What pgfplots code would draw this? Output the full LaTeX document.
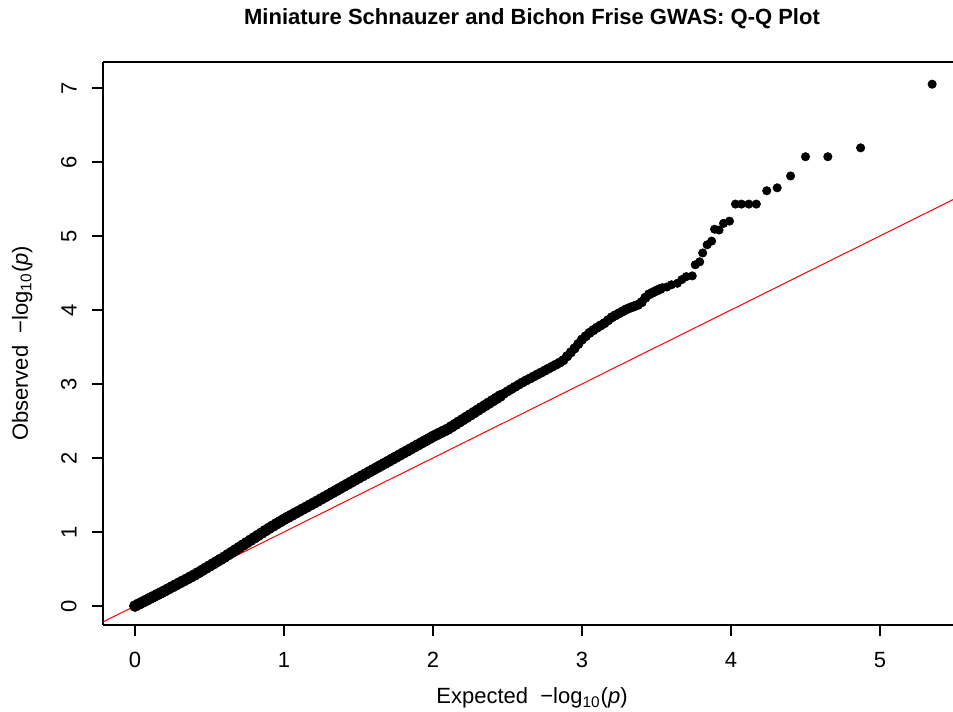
\documentclass[border=0pt]{standalone}
\usepackage{fontspec}
\setmainfont{Liberation Sans}
\usepackage{pgfplots}
\pgfplotsset{compat=1.18}

% Q-Q plot: observed vs expected -log10(p)
% dense part of the distribution (many overlapping SNPs)
\pgfplotstableread{
x y
0.000 0.000
0.025 0.026
0.050 0.051
0.075 0.077
0.100 0.103
0.125 0.128
0.150 0.154
0.175 0.179
0.200 0.205
0.225 0.232
0.250 0.259
0.275 0.286
0.300 0.313
0.325 0.339
0.350 0.366
0.375 0.393
0.400 0.420
0.425 0.450
0.450 0.480
0.475 0.510
0.500 0.540
0.525 0.570
0.550 0.600
0.575 0.630
0.600 0.660
0.625 0.693
0.650 0.725
0.675 0.758
0.700 0.790
0.725 0.823
0.750 0.855
0.775 0.888
0.800 0.920
0.825 0.953
0.850 0.985
0.875 1.018
0.900 1.050
0.925 1.080
0.950 1.110
0.975 1.140
1.000 1.170
1.025 1.198
1.050 1.225
1.075 1.253
1.100 1.280
1.125 1.308
1.150 1.335
1.175 1.363
1.200 1.390
1.225 1.418
1.250 1.447
1.275 1.475
1.300 1.503
1.325 1.532
1.350 1.560
1.375 1.588
1.400 1.617
1.425 1.645
1.450 1.673
1.475 1.702
1.500 1.730
1.525 1.758
1.550 1.786
1.575 1.814
1.600 1.842
1.625 1.870
1.650 1.898
1.675 1.926
1.700 1.954
1.725 1.982
1.750 2.010
1.775 2.038
1.800 2.066
1.825 2.094
1.850 2.122
1.875 2.150
1.900 2.178
1.925 2.206
1.950 2.234
1.975 2.262
2.000 2.290
2.025 2.315
2.050 2.340
2.075 2.365
2.100 2.390
2.125 2.422
2.150 2.454
2.175 2.486
2.200 2.518
2.225 2.549
2.250 2.581
2.275 2.613
2.300 2.645
2.325 2.677
2.350 2.709
2.375 2.741
2.400 2.773
2.425 2.804
2.450 2.836
}\densepart

\pgfplotstableread{
x y
2.475 2.868
2.500 2.900
2.525 2.930
2.550 2.960
2.575 2.990
2.600 3.020
2.625 3.047
2.650 3.073
2.675 3.100
2.700 3.127
2.725 3.153
2.750 3.180
2.775 3.207
2.800 3.234
2.825 3.261
2.850 3.288
2.875 3.321
2.900 3.374
2.925 3.427
2.950 3.480
2.975 3.540
3.000 3.600
3.025 3.645
3.050 3.690
3.075 3.725
3.100 3.760
3.125 3.790
3.150 3.820
3.175 3.860
3.200 3.900
3.225 3.928
3.250 3.955
3.275 3.983
3.300 4.010
3.325 4.031
3.350 4.049
3.375 4.068
3.400 4.104
3.425 4.164
3.450 4.210
3.475 4.235
3.500 4.260
3.525 4.284
}\midpart

% top hits
\pgfplotstableread{
x y
3.54 4.30
3.57 4.31
3.60 4.34
3.64 4.36
3.67 4.41
3.70 4.45
3.74 4.46
3.76 4.61
3.79 4.65
3.81 4.77
3.84 4.88
3.87 4.93
3.89 5.09
3.92 5.08
3.95 5.17
3.99 5.20
4.03 5.43
4.07 5.43
4.12 5.43
4.17 5.43
4.24 5.61
4.31 5.65
4.40 5.81
4.50 6.07
4.65 6.07
4.87 6.19
5.35 7.05
}\tailpart

\begin{document}
\begin{tikzpicture}
\begin{axis}[
  scale only axis,
  width=425pt, height=281.5pt,
  xmin=-0.2148, xmax=5.49,
  ymin=-0.257, ymax=7.35,
  axis x line=box, axis y line=left,
  y axis line style={-},
  axis line style={line width=0.9pt},
  every tick/.style={line width=0.9pt, black},
  tick align=outside,
  major tick length=5.5pt,
  xtick pos=bottom, ytick pos=left,
  xtick={0,1,2,3,4,5},
  ytick={0,1,2,3,4,5,6,7},
  /pgf/number format/assume math mode=true,
  tick label style={font=\fontsize{11}{13}\selectfont},
  xticklabel style={inner sep=0pt, yshift=-8pt},
  yticklabel style={rotate=90, anchor=south, inner sep=0pt, yshift=7.5pt},
  xlabel={Expected \ −log\textsubscript{10}(\textit{p})},
  xlabel style={at={([xshift=2pt,yshift=-39.5pt]rel axis cs:0.5,0)}, anchor=base, inner sep=0pt, font=\fontsize{11}{13}\selectfont},
  ylabel={Observed \ −log\textsubscript{10}(\textit{p})},
  ylabel style={at={([xshift=-37.5pt]rel axis cs:0,0.5)}, anchor=base, rotate=0, inner sep=0pt, font=\fontsize{11}{13}\selectfont},
]
\addplot[only marks, mark=*, mark size=2.8pt, mark options={draw=black, fill=black, line width=0.3pt}] table[x=x, y=y] {\densepart};
\addplot[only marks, mark=*, mark size=2.4pt, mark options={draw=black, fill=black, line width=0.3pt}] table[x=x, y=y] {\midpart};
\addplot[only marks, mark=*, mark size=2.1pt, mark options={draw=black, fill=black, line width=0.3pt}] table[x=x, y=y] {\tailpart};
% null expectation y = x
\addplot[red, line width=0.5pt] coordinates {(-0.5,-0.5) (6,6)};
\coordinate (bl) at (rel axis cs:0,0);
\coordinate (tr) at (rel axis cs:1,1);
\coordinate (tc) at (rel axis cs:0.5,1);
\end{axis}
\node[anchor=base, inner sep=0pt, font=\fontsize{11}{13}\selectfont\bfseries]
  at ([xshift=2pt,yshift=18.5pt]tc)
  {Miniature Schnauzer and Bichon Frise GWAS: Q-Q Plot};
\pgfresetboundingbox
\path[use as bounding box] ([xshift=-51.5pt,yshift=-43.5pt]bl) rectangle ([yshift=31pt]tr);
\end{tikzpicture}
\end{document}
